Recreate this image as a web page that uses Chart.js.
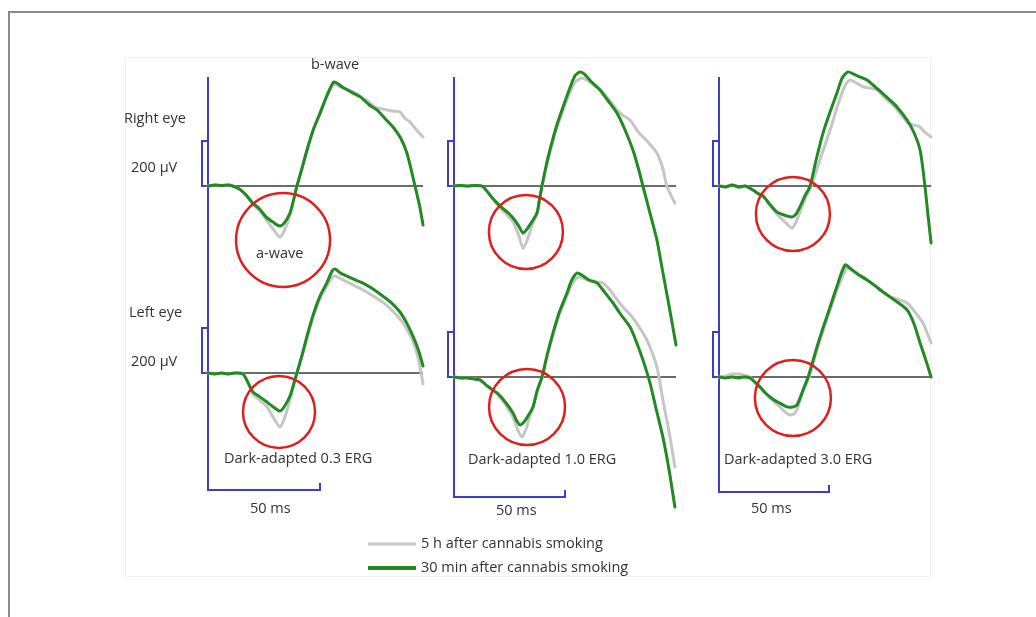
<!DOCTYPE html>
<html><head><meta charset="utf-8">
<script src="https://cdn.jsdelivr.net/npm/chart.js@4.4.1/dist/chart.umd.min.js"></script>
<style>html,body{margin:0;padding:0;background:#fff;}canvas{display:block;}</style>
</head><body>
<canvas id="c" width="1036" height="617"></canvas>
<script>
// ---------- DATA ----------
const stimuli = ['Dark-adapted 0.3 ERG', 'Dark-adapted 1.0 ERG', 'Dark-adapted 3.0 ERG'];
const eyes = ['Right eye', 'Left eye'];
const seriesNames = ['5 h after cannabis smoking', '30 min after cannabis smoking'];
const sweepEndMs = [96, 100, 96.4];
const ampBarUV = 200;
const timeBarMs = 50;

// [time ms, amplitude µV]
const right03_5h = [[0,0],[3,4],[6,2],[9,4],[11,0],[14,-13],[17,-40],[20,-80],[23,-110],[26,-150],[29,-190],[32,-227],[34,-200],[36.6,-130],[38.5,-50],[39.7,0],[42,80],[44.2,160],[47,250],[50,320],[53,395],[56,452],[57.5,450],[60,436],[64.7,420],[68,398],[71,380],[75.4,347],[79,340],[82,333],[85.7,329],[88,300],[90.2,284],[93,250],[96,218]];
const right03_30m = [[0,0],[3,4],[6,2],[9,4],[11,0],[14,-13],[17,-40],[20,-76],[23,-102],[26,-138],[29,-160],[32,-178],[34,-165],[36.6,-120],[38.5,-50],[39.7,0],[42,80],[44.2,160],[47,250],[50,324],[53,400],[56,462],[57.5,458],[60,440],[64.7,413],[68,396],[72,360],[75.4,338],[79,300],[82.6,262],[86,213],[88.8,147],[91,60],[92.4,0],[94.5,-90],[96,-173]];
const left03_5h = [[0,0],[3,-4],[6,0],[9,-4],[12,0],[15.6,-4],[18,-50],[20.1,-95],[23,-120],[26.3,-150],[29,-195],[32.1,-240],[34,-205],[36.6,-120],[38.5,-45],[39.7,0],[42,75],[44.2,155],[47,250],[50,330],[53,385],[55.5,425],[56.7,431],[59,420],[62,405],[66,385],[70,365],[73.7,342],[78,315],[82,280],[85.7,240],[88.5,200],[91.5,140],[94,60],[96,-49]];
const left03_30m = [[0,0],[3,-4],[6,0],[9,-4],[12,0],[15.6,-4],[18,-45],[20.1,-85],[23,-105],[26.3,-129],[29,-150],[32.1,-169],[34,-150],[36.6,-102],[38.5,-40],[39.7,0],[42,80],[44.2,164],[47,260],[50,342],[53,400],[55.5,455],[56.7,462],[59,445],[62,431],[66,413],[70,395],[73.7,373],[78,342],[82,311],[85.7,271],[88.5,226],[91.5,164],[94,100],[96,31]];

const right10_5h = [[0,0],[3,2],[6,0],[9,2],[12.6,0],[15,-25],[17,-50],[19.4,-80],[22,-110],[24.5,-135],[26.6,-160],[29,-215],[31.1,-276],[33,-240],[35,-180],[37.4,-120],[38.5,-60],[39.8,0],[41.5,80],[43.2,150],[46,250],[49.1,335],[52,410],[54.5,460],[57.7,480],[60,470],[62,455],[65.8,427],[69,395],[73.4,338],[76,315],[79.3,293],[83,240],[87,200],[91.4,147],[94,80],[95.9,0],[99.5,-76]];
const right10_30m = [[0,0],[3,2],[6,0],[9,2],[12.6,0],[15,-25],[17,-50],[19.4,-76],[22,-100],[24.5,-120],[26.6,-142],[29,-175],[31.1,-209],[33,-190],[35,-160],[37.4,-120],[38.5,-60],[39.6,0],[41.5,90],[43.2,160],[46,260],[49.1,351],[52,430],[54.5,490],[56.8,507],[59,495],[62,462],[65.8,427],[69,384],[73.4,324],[77,250],[80.6,160],[83,80],[85.1,0],[88,-110],[91.4,-240],[94,-380],[97,-540],[100,-707]];
const left10_5h = [[0,0],[3,-4],[6,-4],[9,-9],[11.7,-13],[15,-40],[19.4,-75],[23,-120],[26.6,-180],[28.5,-230],[30.6,-267],[32.5,-230],[34,-180],[35.6,-133],[37.5,-60],[39.8,0],[42,95],[44.6,185],[47.5,280],[50.9,360],[53,410],[55.9,444],[58,440],[61,430],[64,422],[67.1,418],[70,390],[73,350],[76.1,311],[80,270],[85.1,196],[88,140],[91.4,44],[94.1,-102],[97,-250],[99.5,-400]];
const left10_30m = [[0,0],[3,-4],[6,-4],[9,-9],[11.7,-13],[15,-40],[19.4,-71],[23,-110],[26.6,-160],[28,-190],[29.7,-213],[31.5,-200],[33.5,-170],[35.6,-133],[37.5,-60],[39.6,0],[42,100],[44.6,196],[47.5,290],[50.9,373],[53,430],[55.4,462],[58,450],[61,430],[64.4,418],[68,375],[71.6,329],[75,280],[79.3,222],[82,160],[85.1,76],[88.3,-27],[91,-140],[94.1,-267],[97,-420],[99.5,-578]];

const right30_5h = [[0,0],[3,-4],[6,4],[9,-4],[12,0],[15.5,-18],[18,-35],[20,-44],[23,-85],[26.4,-125],[30,-160],[33.2,-187],[35,-160],[37,-110],[39.5,-50],[42,0],[46,120],[50.5,249],[54,360],[57,440],[59.5,471],[62,460],[66,440],[71.8,427],[75,395],[79,360],[83.6,307],[86,280],[88.2,271],[91,265],[93.5,240],[96.4,218]];
const right30_30m = [[0,0],[3,-4],[6,4],[9,-4],[12,0],[15.5,-18],[18,-35],[20,-44],[23,-80],[26.4,-116],[30,-130],[33.2,-138],[35,-125],[36.8,-93],[39,-45],[41.4,0],[44,110],[47.3,236],[50.5,330],[53.6,413],[56,480],[58.6,507],[61,498],[64,485],[67.3,471],[71,440],[74,415],[77.7,382],[81,350],[85.5,293],[88.5,240],[91.4,160],[93.6,0],[95,-130],[96.4,-253]];
const left30_5h = [[0,0],[3,4],[6,13],[9,13],[11,9],[14.1,0],[16.5,-25],[18.6,-44],[21,-70],[23.2,-93],[25.5,-115],[27.7,-133],[30,-155],[32.3,-169],[34.5,-160],[36,-130],[38.5,-58],[41,0],[43,70],[45,133],[48,225],[51,311],[54,395],[58.2,484],[61,470],[64,450],[67.3,431],[71,405],[74,382],[77.7,356],[81.5,345],[85.5,329],[89,290],[92.7,240],[96.4,151]];
const left30_30m = [[0,0],[3,-4],[6,0],[9,-4],[11,0],[14.1,-4],[16.5,-25],[18.6,-44],[21,-70],[23.2,-89],[25.5,-105],[27.7,-116],[30.9,-133],[33.5,-133],[35.5,-124],[38.2,-58],[40.5,0],[42.5,65],[44.5,133],[47.5,225],[50.5,311],[53.5,400],[57.3,498],[60,480],[63,458],[67.3,431],[71,405],[74,382],[77.7,356],[81.5,330],[85.5,298],[88.5,240],[91.4,151],[94,75],[96.4,0]];

// a-wave circle centres [ms, µV]
const awaveRight = [[33.5,-240],[32.4,-204],[33.6,-124]];
const awaveLeft = [[31.7,-173],[32.9,-133],[33.6,-93]];

// ---------- LAYOUT ----------
const W = 1036, H = 617;
const colOriginPx = [208, 454, 719];
const colPxPerMs = [2.24, 2.22, 2.2];
const pxPerUV = 0.225;
const rightBasePx = 186;
const leftBasePx = [373, 377, 377];
const circleR = [[47, 36], [37, 38], [37, 38]];
const barTopUV = 485;
const barBottomUV = [-520, -533, -511];

const traces = [
  [[right03_5h, right03_30m], [left03_5h, left03_30m]],
  [[right10_5h, right10_30m], [left10_5h, left10_30m]],
  [[right30_5h, right30_30m], [left30_5h, left30_30m]]
];
const awave = [awaveRight, awaveLeft];

const toXY = a => a.map(p => ({x: p[0], y: p[1]}));
const GREY = '#c6c6c6', GREEN = '#238a23', RED = '#e01e1e', BLUE = '#3d3dcc', BLACK = '#3a3a3a';

const scales = {};
for (let c = 0; c < 3; c++) {
  const o = colOriginPx[c], k = colPxPerMs[c];
  scales['x' + c] = {type: 'linear', display: false, min: -o / k, max: (W - o) / k};
  scales['yL' + c] = {type: 'linear', display: false, min: -(H - leftBasePx[c]) / pxPerUV, max: leftBasePx[c] / pxPerUV};
}
scales['yR'] = {type: 'linear', display: false, min: -(H - rightBasePx) / pxPerUV, max: rightBasePx / pxPerUV};

const datasets = [];
for (let c = 0; c < 3; c++) {
  for (let e = 0; e < 2; e++) {
    const xID = 'x' + c, yID = e === 0 ? 'yR' : 'yL' + c;
    datasets.push({type: 'line', data: [{x: 0, y: 0}, {x: sweepEndMs[c], y: 0}], xAxisID: xID, yAxisID: yID,
      borderColor: BLACK, borderWidth: 1.5, pointRadius: 0, order: 4});
    datasets.push({type: 'line', label: seriesNames[0], data: toXY(traces[c][e][0]), xAxisID: xID, yAxisID: yID,
      borderColor: GREY, borderWidth: 3, pointRadius: 0, tension: 0.25, order: 3, borderJoinStyle: 'round', borderCapStyle: 'round'});
    datasets.push({type: 'line', label: seriesNames[1], data: toXY(traces[c][e][1]), xAxisID: xID, yAxisID: yID,
      borderColor: GREEN, borderWidth: 3, pointRadius: 0, tension: 0.25, order: 2, borderJoinStyle: 'round', borderCapStyle: 'round'});
    const ctr = awave[e][c];
    datasets.push({type: 'bubble', data: [{x: ctr[0], y: ctr[1], r: circleR[c][e]}], xAxisID: xID, yAxisID: yID,
      backgroundColor: 'rgba(0,0,0,0)', borderColor: RED, borderWidth: 2.5, order: 1});
  }
}

const FONT = '14.5px "Open Sans", "Noto Sans", sans-serif';
const labels = [
  {t: eyes[0], x: 124, y: 119}, {t: '200 µV', x: 131, y: 168},
  {t: eyes[1], x: 129, y: 313}, {t: '200 µV', x: 131, y: 362},
  {t: 'b-wave', x: 311, y: 65}, {t: 'a-wave', x: 256, y: 254}
];
const stimLabelPos = [[224, 459], [468, 460], [724, 460]];
const msLabelPos = [[250, 509], [496, 511], [751, 509]];

const decor = {
  id: 'decor',
  beforeDatasetsDraw(chart) {
    const ctx = chart.ctx, s = chart.scales;
    ctx.save();
    ctx.strokeStyle = '#8c8c8c'; ctx.lineWidth = 2;
    ctx.beginPath(); ctx.moveTo(9, H); ctx.lineTo(9, 12); ctx.lineTo(W, 12); ctx.stroke();
    ctx.strokeStyle = '#f1f1f1'; ctx.lineWidth = 1;
    ctx.strokeRect(125.5, 57.5, 805, 519);
    ctx.strokeStyle = BLUE; ctx.lineWidth = 2; ctx.lineJoin = 'miter';
    for (let c = 0; c < 3; c++) {
      const xs = s['x' + c], yR = s['yR'], yL = s['yL' + c];
      const x0 = xs.getPixelForValue(0), x50 = xs.getPixelForValue(timeBarMs);
      const top = yR.getPixelForValue(barTopUV), bot = yL.getPixelForValue(barBottomUV[c]);
      ctx.beginPath();
      ctx.moveTo(x0, top); ctx.lineTo(x0, bot); ctx.lineTo(x50, bot); ctx.lineTo(x50, bot - 7);
      ctx.stroke();
      for (const ys of [yR, yL]) {
        const b = ys.getPixelForValue(0), a = ys.getPixelForValue(ampBarUV);
        ctx.beginPath();
        ctx.moveTo(x0, b); ctx.lineTo(x0 - 6, b); ctx.lineTo(x0 - 6, a); ctx.lineTo(x0, a);
        ctx.stroke();
      }
    }
    ctx.restore();
  },
  afterDatasetsDraw(chart) {
    const ctx = chart.ctx;
    ctx.save();
    ctx.font = FONT; ctx.fillStyle = '#333'; ctx.textBaseline = 'middle'; ctx.textAlign = 'left';
    labels.forEach(l => ctx.fillText(l.t, l.x, l.y));
    for (let c = 0; c < 3; c++) {
      ctx.fillText(stimuli[c], stimLabelPos[c][0], stimLabelPos[c][1]);
      ctx.fillText(timeBarMs + ' ms', msLabelPos[c][0], msLabelPos[c][1]);
    }
    const legend = [[GREY, 3, 544], [GREEN, 4, 568]];
    legend.forEach((L, i) => {
      ctx.strokeStyle = L[0]; ctx.lineWidth = L[1];
      ctx.beginPath(); ctx.moveTo(368, L[2]); ctx.lineTo(416, L[2]); ctx.stroke();
      ctx.fillText(seriesNames[i], 421, L[2]);
    });
    ctx.restore();
  }
};

new Chart(document.getElementById('c'), {
  type: 'line',
  data: {datasets},
  options: {
    responsive: false, animation: false, events: [],
    layout: {padding: 0, autoPadding: false},
    plugins: {legend: {display: false}, tooltip: {enabled: false}, title: {display: false}},
    scales
  },
  plugins: [decor]
});
</script>
</body></html>
